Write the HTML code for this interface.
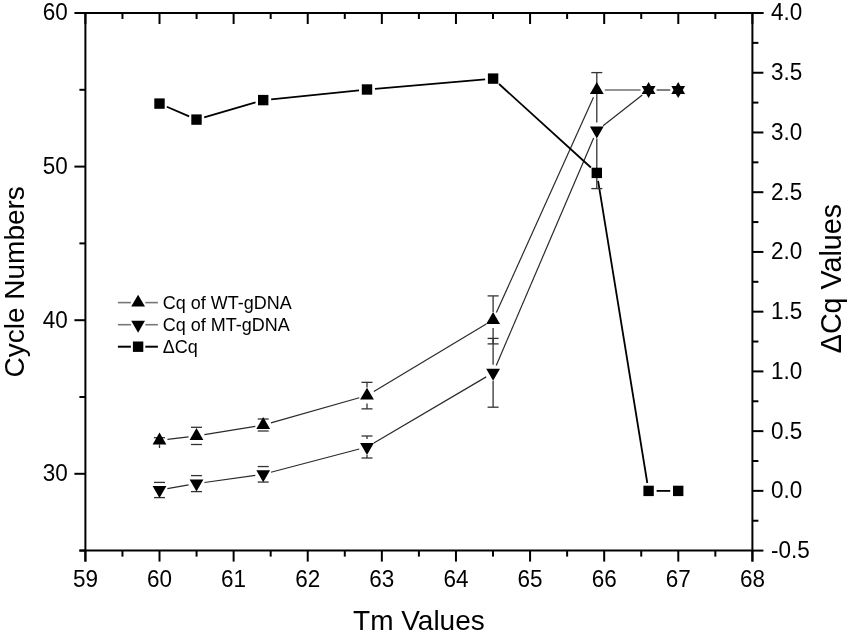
<!DOCTYPE html>
<html><head><meta charset="utf-8"><style>
html,body{margin:0;padding:0;background:#fff;}
svg{display:block;will-change:transform;}
text{font-family:"Liberation Sans",sans-serif;fill:#000;}
</style></head><body>
<svg width="850" height="635" viewBox="0 0 850 635">
<rect width="850" height="635" fill="#fff"/>
<g>
<line x1="167.44" y1="439.43" x2="188.56" y2="436.87" stroke="#2a2a2a" stroke-width="1.2"/>
<line x1="167.38" y1="488.64" x2="188.62" y2="484.96" stroke="#2a2a2a" stroke-width="1.2"/>
<line x1="204.4" y1="434.61" x2="255.3" y2="426.29" stroke="#2a2a2a" stroke-width="1.2"/>
<line x1="204.42" y1="482.5" x2="255.28" y2="475.4" stroke="#2a2a2a" stroke-width="1.2"/>
<line x1="270.9" y1="422.82" x2="359.3" y2="397.78" stroke="#2a2a2a" stroke-width="1.2"/>
<line x1="270.94" y1="472.27" x2="359.26" y2="449.03" stroke="#2a2a2a" stroke-width="1.2"/>
<line x1="373.86" y1="391.48" x2="486.24" y2="324.02" stroke="#2a2a2a" stroke-width="1.2"/>
<line x1="373.89" y1="442.94" x2="486.21" y2="376.86" stroke="#2a2a2a" stroke-width="1.2"/>
<line x1="496.39" y1="312.61" x2="593.51" y2="97.29" stroke="#2a2a2a" stroke-width="1.2"/>
<line x1="496.25" y1="365.45" x2="593.65" y2="137.95" stroke="#2a2a2a" stroke-width="1.2"/>
<line x1="604.8" y1="90" x2="640.6" y2="90" stroke="#2a2a2a" stroke-width="1.2"/>
<line x1="603.1" y1="125.66" x2="642.3" y2="94.94" stroke="#2a2a2a" stroke-width="1.2"/>
<line x1="656.6" y1="90" x2="670.2" y2="90" stroke="#2a2a2a" stroke-width="1.2"/>
<line x1="166.84" y1="106.78" x2="189.16" y2="116.42" stroke="#000" stroke-width="1.8"/>
<line x1="204.18" y1="117.36" x2="255.52" y2="102.34" stroke="#000" stroke-width="1.8"/>
<line x1="271.16" y1="99.29" x2="359.04" y2="90.31" stroke="#000" stroke-width="1.8"/>
<line x1="374.97" y1="88.81" x2="485.13" y2="79.29" stroke="#000" stroke-width="1.8"/>
<line x1="499.02" y1="83.98" x2="590.88" y2="167.52" stroke="#000" stroke-width="1.8"/>
<line x1="598.09" y1="180.8" x2="647.31" y2="483" stroke="#000" stroke-width="1.8"/>
<line x1="656.6" y1="490.9" x2="670.2" y2="490.9" stroke="#000" stroke-width="1.8"/>
<line x1="154" y1="437.7" x2="165" y2="437.7" stroke="#333" stroke-width="1.3"/>
<line x1="154" y1="443.1" x2="165" y2="443.1" stroke="#333" stroke-width="1.3"/>
<line x1="154" y1="482.4" x2="165" y2="482.4" stroke="#333" stroke-width="1.3"/>
<line x1="154" y1="497.6" x2="165" y2="497.6" stroke="#333" stroke-width="1.3"/>
<line x1="196.5" y1="427.9" x2="196.5" y2="427.3" stroke="#333" stroke-width="1.3"/>
<line x1="191" y1="427.3" x2="202" y2="427.3" stroke="#333" stroke-width="1.3"/>
<line x1="196.5" y1="443.9" x2="196.5" y2="444.5" stroke="#333" stroke-width="1.3"/>
<line x1="191" y1="444.5" x2="202" y2="444.5" stroke="#333" stroke-width="1.3"/>
<line x1="191" y1="475.6" x2="202" y2="475.6" stroke="#333" stroke-width="1.3"/>
<line x1="191" y1="491.6" x2="202" y2="491.6" stroke="#333" stroke-width="1.3"/>
<line x1="257.7" y1="419" x2="268.7" y2="419" stroke="#333" stroke-width="1.3"/>
<line x1="257.7" y1="431" x2="268.7" y2="431" stroke="#333" stroke-width="1.3"/>
<line x1="257.7" y1="466.55" x2="268.7" y2="466.55" stroke="#333" stroke-width="1.3"/>
<line x1="257.7" y1="482.05" x2="268.7" y2="482.05" stroke="#333" stroke-width="1.3"/>
<line x1="367" y1="387.6" x2="367" y2="382.35" stroke="#333" stroke-width="1.3"/>
<line x1="361.5" y1="382.35" x2="372.5" y2="382.35" stroke="#333" stroke-width="1.3"/>
<line x1="367" y1="403.6" x2="367" y2="408.85" stroke="#333" stroke-width="1.3"/>
<line x1="361.5" y1="408.85" x2="372.5" y2="408.85" stroke="#333" stroke-width="1.3"/>
<line x1="367" y1="439" x2="367" y2="436" stroke="#333" stroke-width="1.3"/>
<line x1="361.5" y1="436" x2="372.5" y2="436" stroke="#333" stroke-width="1.3"/>
<line x1="367" y1="455" x2="367" y2="458" stroke="#333" stroke-width="1.3"/>
<line x1="361.5" y1="458" x2="372.5" y2="458" stroke="#333" stroke-width="1.3"/>
<line x1="493.1" y1="311.9" x2="493.1" y2="295.9" stroke="#333" stroke-width="1.3"/>
<line x1="487.6" y1="295.9" x2="498.6" y2="295.9" stroke="#333" stroke-width="1.3"/>
<line x1="493.1" y1="327.9" x2="493.1" y2="343.9" stroke="#333" stroke-width="1.3"/>
<line x1="487.6" y1="343.9" x2="498.6" y2="343.9" stroke="#333" stroke-width="1.3"/>
<line x1="493.1" y1="364.8" x2="493.1" y2="338.4" stroke="#333" stroke-width="1.3"/>
<line x1="487.6" y1="338.4" x2="498.6" y2="338.4" stroke="#333" stroke-width="1.3"/>
<line x1="493.1" y1="380.8" x2="493.1" y2="407.2" stroke="#333" stroke-width="1.3"/>
<line x1="487.6" y1="407.2" x2="498.6" y2="407.2" stroke="#333" stroke-width="1.3"/>
<line x1="596.8" y1="122.6" x2="596.8" y2="72.6" stroke="#333" stroke-width="1.3"/>
<line x1="591.3" y1="72.6" x2="602.3" y2="72.6" stroke="#333" stroke-width="1.3"/>
<line x1="596.8" y1="138.6" x2="596.8" y2="188.6" stroke="#333" stroke-width="1.3"/>
<line x1="591.3" y1="188.6" x2="602.3" y2="188.6" stroke="#333" stroke-width="1.3"/>
<line x1="159.5" y1="444.4" x2="159.5" y2="448" stroke="#333" stroke-width="1.3"/>
<polygon points="159.5,432.43 166.4,444.38 152.6,444.38" fill="#000"/>
<polygon points="152.6,486.02 166.4,486.02 159.5,497.97" fill="#000"/>
<rect x="154.3" y="98.4" width="10.4" height="10.4" fill="#000"/>
<polygon points="196.5,427.93 203.4,439.88 189.6,439.88" fill="#000"/>
<polygon points="189.6,479.62 203.4,479.62 196.5,491.57" fill="#000"/>
<rect x="191.3" y="114.4" width="10.4" height="10.4" fill="#000"/>
<polygon points="263.2,417.03 270.1,428.98 256.3,428.98" fill="#000"/>
<polygon points="256.3,470.32 270.1,470.32 263.2,482.27" fill="#000"/>
<rect x="258" y="94.9" width="10.4" height="10.4" fill="#000"/>
<polygon points="367,387.63 373.9,399.58 360.1,399.58" fill="#000"/>
<polygon points="360.1,443.02 373.9,443.02 367,454.97" fill="#000"/>
<rect x="361.8" y="84.3" width="10.4" height="10.4" fill="#000"/>
<polygon points="493.1,311.93 500,323.88 486.2,323.88" fill="#000"/>
<polygon points="486.2,368.82 500,368.82 493.1,380.77" fill="#000"/>
<rect x="487.9" y="73.4" width="10.4" height="10.4" fill="#000"/>
<polygon points="596.8,82.03 603.7,93.98 589.9,93.98" fill="#000"/>
<polygon points="589.9,126.62 603.7,126.62 596.8,138.57" fill="#000"/>
<rect x="591.6" y="167.7" width="10.4" height="10.4" fill="#000"/>
<polygon points="648.6,82.03 655.5,93.98 641.7,93.98" fill="#000"/>
<polygon points="641.7,86.02 655.5,86.02 648.6,97.97" fill="#000"/>
<rect x="643.4" y="485.7" width="10.4" height="10.4" fill="#000"/>
<polygon points="678.2,82.03 685.1,93.98 671.3,93.98" fill="#000"/>
<polygon points="671.3,86.02 685.1,86.02 678.2,97.97" fill="#000"/>
<rect x="673" y="485.7" width="10.4" height="10.4" fill="#000"/>
</g>
<g stroke-linecap="butt">
<line x1="85.4" y1="13" x2="763.4" y2="13" stroke="#000" stroke-width="2.0"/>
<line x1="79.4" y1="550.6" x2="752.4" y2="550.6" stroke="#000" stroke-width="2.0"/>
<line x1="85.4" y1="12" x2="85.4" y2="561.6" stroke="#000" stroke-width="2.0"/>
<line x1="752.4" y1="12" x2="752.4" y2="561.6" stroke="#000" stroke-width="2.0"/>
<line x1="85.4" y1="550.6" x2="85.4" y2="561.6" stroke="#000" stroke-width="2.0"/>
<line x1="85.4" y1="13" x2="85.4" y2="24" stroke="#000" stroke-width="2.0"/>
<line x1="122.46" y1="550.6" x2="122.46" y2="556.6" stroke="#000" stroke-width="2.0"/>
<line x1="122.46" y1="13" x2="122.46" y2="19" stroke="#000" stroke-width="2.0"/>
<line x1="159.51" y1="550.6" x2="159.51" y2="561.6" stroke="#000" stroke-width="2.0"/>
<line x1="159.51" y1="13" x2="159.51" y2="24" stroke="#000" stroke-width="2.0"/>
<line x1="196.57" y1="550.6" x2="196.57" y2="556.6" stroke="#000" stroke-width="2.0"/>
<line x1="196.57" y1="13" x2="196.57" y2="19" stroke="#000" stroke-width="2.0"/>
<line x1="233.62" y1="550.6" x2="233.62" y2="561.6" stroke="#000" stroke-width="2.0"/>
<line x1="233.62" y1="13" x2="233.62" y2="24" stroke="#000" stroke-width="2.0"/>
<line x1="270.68" y1="550.6" x2="270.68" y2="556.6" stroke="#000" stroke-width="2.0"/>
<line x1="270.68" y1="13" x2="270.68" y2="19" stroke="#000" stroke-width="2.0"/>
<line x1="307.73" y1="550.6" x2="307.73" y2="561.6" stroke="#000" stroke-width="2.0"/>
<line x1="307.73" y1="13" x2="307.73" y2="24" stroke="#000" stroke-width="2.0"/>
<line x1="344.79" y1="550.6" x2="344.79" y2="556.6" stroke="#000" stroke-width="2.0"/>
<line x1="344.79" y1="13" x2="344.79" y2="19" stroke="#000" stroke-width="2.0"/>
<line x1="381.84" y1="550.6" x2="381.84" y2="561.6" stroke="#000" stroke-width="2.0"/>
<line x1="381.84" y1="13" x2="381.84" y2="24" stroke="#000" stroke-width="2.0"/>
<line x1="418.9" y1="550.6" x2="418.9" y2="556.6" stroke="#000" stroke-width="2.0"/>
<line x1="418.9" y1="13" x2="418.9" y2="19" stroke="#000" stroke-width="2.0"/>
<line x1="455.96" y1="550.6" x2="455.96" y2="561.6" stroke="#000" stroke-width="2.0"/>
<line x1="455.96" y1="13" x2="455.96" y2="24" stroke="#000" stroke-width="2.0"/>
<line x1="493.01" y1="550.6" x2="493.01" y2="556.6" stroke="#000" stroke-width="2.0"/>
<line x1="493.01" y1="13" x2="493.01" y2="19" stroke="#000" stroke-width="2.0"/>
<line x1="530.07" y1="550.6" x2="530.07" y2="561.6" stroke="#000" stroke-width="2.0"/>
<line x1="530.07" y1="13" x2="530.07" y2="24" stroke="#000" stroke-width="2.0"/>
<line x1="567.12" y1="550.6" x2="567.12" y2="556.6" stroke="#000" stroke-width="2.0"/>
<line x1="567.12" y1="13" x2="567.12" y2="19" stroke="#000" stroke-width="2.0"/>
<line x1="604.18" y1="550.6" x2="604.18" y2="561.6" stroke="#000" stroke-width="2.0"/>
<line x1="604.18" y1="13" x2="604.18" y2="24" stroke="#000" stroke-width="2.0"/>
<line x1="641.23" y1="550.6" x2="641.23" y2="556.6" stroke="#000" stroke-width="2.0"/>
<line x1="641.23" y1="13" x2="641.23" y2="19" stroke="#000" stroke-width="2.0"/>
<line x1="678.29" y1="550.6" x2="678.29" y2="561.6" stroke="#000" stroke-width="2.0"/>
<line x1="678.29" y1="13" x2="678.29" y2="24" stroke="#000" stroke-width="2.0"/>
<line x1="715.34" y1="550.6" x2="715.34" y2="556.6" stroke="#000" stroke-width="2.0"/>
<line x1="715.34" y1="13" x2="715.34" y2="19" stroke="#000" stroke-width="2.0"/>
<line x1="752.4" y1="550.6" x2="752.4" y2="561.6" stroke="#000" stroke-width="2.0"/>
<line x1="752.4" y1="13" x2="752.4" y2="24" stroke="#000" stroke-width="2.0"/>
<line x1="79.4" y1="550.6" x2="85.4" y2="550.6" stroke="#000" stroke-width="2.0"/>
<line x1="74.4" y1="473.8" x2="85.4" y2="473.8" stroke="#000" stroke-width="2.0"/>
<line x1="79.4" y1="397" x2="85.4" y2="397" stroke="#000" stroke-width="2.0"/>
<line x1="74.4" y1="320.2" x2="85.4" y2="320.2" stroke="#000" stroke-width="2.0"/>
<line x1="79.4" y1="243.4" x2="85.4" y2="243.4" stroke="#000" stroke-width="2.0"/>
<line x1="74.4" y1="166.6" x2="85.4" y2="166.6" stroke="#000" stroke-width="2.0"/>
<line x1="79.4" y1="89.8" x2="85.4" y2="89.8" stroke="#000" stroke-width="2.0"/>
<line x1="74.4" y1="13" x2="85.4" y2="13" stroke="#000" stroke-width="2.0"/>
<line x1="752.4" y1="550.6" x2="763.4" y2="550.6" stroke="#000" stroke-width="2.0"/>
<line x1="752.4" y1="520.73" x2="758.4" y2="520.73" stroke="#000" stroke-width="2.0"/>
<line x1="752.4" y1="490.87" x2="763.4" y2="490.87" stroke="#000" stroke-width="2.0"/>
<line x1="752.4" y1="461" x2="758.4" y2="461" stroke="#000" stroke-width="2.0"/>
<line x1="752.4" y1="431.13" x2="763.4" y2="431.13" stroke="#000" stroke-width="2.0"/>
<line x1="752.4" y1="401.27" x2="758.4" y2="401.27" stroke="#000" stroke-width="2.0"/>
<line x1="752.4" y1="371.4" x2="763.4" y2="371.4" stroke="#000" stroke-width="2.0"/>
<line x1="752.4" y1="341.53" x2="758.4" y2="341.53" stroke="#000" stroke-width="2.0"/>
<line x1="752.4" y1="311.67" x2="763.4" y2="311.67" stroke="#000" stroke-width="2.0"/>
<line x1="752.4" y1="281.8" x2="758.4" y2="281.8" stroke="#000" stroke-width="2.0"/>
<line x1="752.4" y1="251.93" x2="763.4" y2="251.93" stroke="#000" stroke-width="2.0"/>
<line x1="752.4" y1="222.07" x2="758.4" y2="222.07" stroke="#000" stroke-width="2.0"/>
<line x1="752.4" y1="192.2" x2="763.4" y2="192.2" stroke="#000" stroke-width="2.0"/>
<line x1="752.4" y1="162.33" x2="758.4" y2="162.33" stroke="#000" stroke-width="2.0"/>
<line x1="752.4" y1="132.47" x2="763.4" y2="132.47" stroke="#000" stroke-width="2.0"/>
<line x1="752.4" y1="102.6" x2="758.4" y2="102.6" stroke="#000" stroke-width="2.0"/>
<line x1="752.4" y1="72.73" x2="763.4" y2="72.73" stroke="#000" stroke-width="2.0"/>
<line x1="752.4" y1="42.87" x2="758.4" y2="42.87" stroke="#000" stroke-width="2.0"/>
<line x1="752.4" y1="13" x2="763.4" y2="13" stroke="#000" stroke-width="2.0"/>
</g>
<g>
<line x1="117.9" y1="302.6" x2="130.9" y2="302.6" stroke="#777" stroke-width="1.6"/>
<line x1="145.3" y1="302.6" x2="157.9" y2="302.6" stroke="#777" stroke-width="1.6"/>
<polygon points="138.1,294.63 145,306.58 131.2,306.58" fill="#000"/>
<line x1="117.9" y1="324.7" x2="130.9" y2="324.7" stroke="#777" stroke-width="1.6"/>
<line x1="145.3" y1="324.7" x2="157.9" y2="324.7" stroke="#777" stroke-width="1.6"/>
<polygon points="131.2,320.72 145,320.72 138.1,332.67" fill="#000"/>
<line x1="117.9" y1="346.7" x2="130.9" y2="346.7" stroke="#000" stroke-width="2.0"/>
<line x1="145.3" y1="346.7" x2="157.9" y2="346.7" stroke="#000" stroke-width="2.0"/>
<rect x="132.9" y="341.5" width="10.4" height="10.4" fill="#000"/>
</g>
<g>
<text transform="translate(85.4,587) scale(1,1.035)" font-size="22.5" text-anchor="middle">59</text>
<text transform="translate(159.51,587) scale(1,1.035)" font-size="22.5" text-anchor="middle">60</text>
<text transform="translate(233.62,587) scale(1,1.035)" font-size="22.5" text-anchor="middle">61</text>
<text transform="translate(307.73,587) scale(1,1.035)" font-size="22.5" text-anchor="middle">62</text>
<text transform="translate(381.84,587) scale(1,1.035)" font-size="22.5" text-anchor="middle">63</text>
<text transform="translate(455.96,587) scale(1,1.035)" font-size="22.5" text-anchor="middle">64</text>
<text transform="translate(530.07,587) scale(1,1.035)" font-size="22.5" text-anchor="middle">65</text>
<text transform="translate(604.18,587) scale(1,1.035)" font-size="22.5" text-anchor="middle">66</text>
<text transform="translate(678.29,587) scale(1,1.035)" font-size="22.5" text-anchor="middle">67</text>
<text transform="translate(752.4,587) scale(1,1.035)" font-size="22.5" text-anchor="middle">68</text>
<text transform="translate(67.8,481.21) scale(1,1.035)" font-size="22.5" text-anchor="end">30</text>
<text transform="translate(67.8,327.61) scale(1,1.035)" font-size="22.5" text-anchor="end">40</text>
<text transform="translate(67.8,174.01) scale(1,1.035)" font-size="22.5" text-anchor="end">50</text>
<text transform="translate(67.8,20.41) scale(1,1.035)" font-size="22.5" text-anchor="end">60</text>
<text transform="translate(770.9,558.01) scale(1,1.035)" font-size="22.5" text-anchor="start">-0.5</text>
<text transform="translate(770.9,498.28) scale(1,1.035)" font-size="22.5" text-anchor="start">0.0</text>
<text transform="translate(770.9,438.54) scale(1,1.035)" font-size="22.5" text-anchor="start">0.5</text>
<text transform="translate(770.9,378.81) scale(1,1.035)" font-size="22.5" text-anchor="start">1.0</text>
<text transform="translate(770.9,319.08) scale(1,1.035)" font-size="22.5" text-anchor="start">1.5</text>
<text transform="translate(770.9,259.34) scale(1,1.035)" font-size="22.5" text-anchor="start">2.0</text>
<text transform="translate(770.9,199.61) scale(1,1.035)" font-size="22.5" text-anchor="start">2.5</text>
<text transform="translate(770.9,139.88) scale(1,1.035)" font-size="22.5" text-anchor="start">3.0</text>
<text transform="translate(770.9,80.14) scale(1,1.035)" font-size="22.5" text-anchor="start">3.5</text>
<text transform="translate(770.9,20.41) scale(1,1.035)" font-size="22.5" text-anchor="start">4.0</text>
<text transform="translate(418.9,630.4) scale(1,1.01)" font-size="28" text-anchor="middle">Tm Values</text>
<text x="0" y="0" font-size="28" text-anchor="middle" transform="translate(24.0,281.8) rotate(-90) scale(1,1.02)">Cycle Numbers</text>
<text x="0" y="0" font-size="28.7" text-anchor="middle" transform="translate(840.7,278.6) rotate(-90) scale(1,1.02)">&#916;Cq Values</text>
<text transform="translate(162.8,309.3) scale(1,1.04)" font-size="18" text-anchor="start">Cq of WT-gDNA</text>
<text transform="translate(162.8,331.4) scale(1,1.04)" font-size="18" text-anchor="start">Cq of MT-gDNA</text>
<text transform="translate(162.8,353.4) scale(1,1.04)" font-size="18" text-anchor="start">&#916;Cq</text>
</g>
</svg>
</body></html>
